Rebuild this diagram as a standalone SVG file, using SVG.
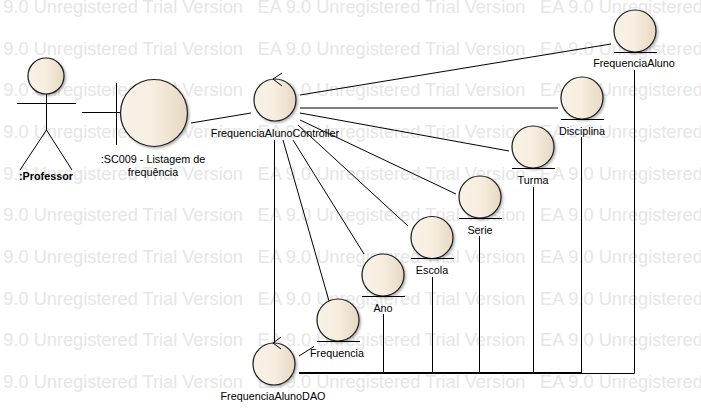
<svg xmlns="http://www.w3.org/2000/svg" xmlns:xlink="http://www.w3.org/1999/xlink" width="701" height="413" viewBox="0 0 701 413">
<style>
text{font-family:"Liberation Sans",Arial,sans-serif}
.wm{font-size:18.2px;fill:#e6e6e6}
.lb{font-size:10.8px;fill:#000;text-anchor:middle}
.ln{stroke:#000;stroke-width:1;fill:none}
.c{fill:url(#g);stroke:#1a1a1a;stroke-width:1.2;filter:url(#s)}
</style>
<defs>
<linearGradient id="g"><stop offset="0" stop-color="#f8f1e6"/><stop offset=".5" stop-color="#f7eee0"/><stop offset="1" stop-color="#e6d7c2"/></linearGradient>
<filter id="s" x="-20%" y="-20%" width="140%" height="140%"><feDropShadow dx="1.5" dy="1.5" stdDeviation="1" flood-color="#000" flood-opacity=".3"/></filter>
<g id="w"><text class="wm" x="-25" y="13">EA 9.0 Unregistered Trial Version</text><text class="wm" x="257.500" y="13">EA 9.0 Unregistered Trial Version</text><text class="wm" x="540" y="13">EA 9.0 Unregistered Trial Version</text></g>
</defs>
<rect width="701" height="413" fill="#fff"/>
<g id="watermark">
<use xlink:href="#w" y="0"/><use xlink:href="#w" y="41.6"/><use xlink:href="#w" y="83.3"/><use xlink:href="#w" y="125"/><use xlink:href="#w" y="166.6"/><use xlink:href="#w" y="208.3"/><use xlink:href="#w" y="250"/><use xlink:href="#w" y="291.6"/><use xlink:href="#w" y="333.3"/><use xlink:href="#w" y="375"/>
</g>
<g id="connectors" class="ln">
<path d="M191 123L251 113"/>
<path d="M300 95L611 44"/>
<path d="M300 108H558"/>
<path d="M300 113L509 151"/>
<path d="M300 120L456 194"/>
<path d="M298 125L408 226"/>
<path d="M293 140L364 254"/>
<path d="M283 140L329 301"/>
<path d="M274.5 140V343"/>
<path d="M299 356L314 346.5"/>
<path d="M299 373H582" stroke-width="2"/>
<path d="M582 373.500H634.500V70"/>
<path d="M383.500 314V373M432.500 277V373M479.500 236V373M533.500 187V373M581.500 137V373"/>
</g>
<g id="professor"><circle class="c" cx="46" cy="76" r="18"/><path class="ln" d="M46.500 94V130M17 103.500H76M20 170L46.500 130L72 170"/><text class="lb" x="46" y="180" font-weight="bold">:Professor</text></g>
<g id="sc009"><circle class="c" cx="154" cy="113" r="33.5"/><path class="ln" d="M116.500 83V145M82 112.500H120"/><text class="lb" x="153" y="163">:SC009 - Listagem de</text><text class="lb" x="153" y="176">frequência</text></g>
<g id="controller"><circle class="c" cx="275" cy="100" r="21"/><path class="ln" d="M282 73L273 79L282 86"/><text class="lb" x="275" y="137">FrequenciaAlunoController</text></g>
<g id="frequenciaAluno"><circle class="c" cx="635" cy="31" r="21"/><path class="ln" d="M614 52.500H657"/><text class="lb" x="634" y="67">FrequenciaAluno</text></g>
<g id="disciplina"><circle class="c" cx="582" cy="98" r="21"/><path class="ln" d="M561 119.500H604"/><text class="lb" x="582" y="135">Disciplina</text></g>
<g id="turma"><circle class="c" cx="533" cy="147" r="21"/><path class="ln" d="M512 168.500H555"/><text class="lb" x="533" y="184">Turma</text></g>
<g id="serie"><circle class="c" cx="480" cy="197" r="21"/><path class="ln" d="M459 218.500H502"/><text class="lb" x="480" y="234">Serie</text></g>
<g id="escola"><circle class="c" cx="432" cy="237.500" r="21"/><path class="ln" d="M411 258.500H454"/><text class="lb" x="432" y="274">Escola</text></g>
<g id="ano"><circle class="c" cx="383" cy="275" r="21"/><path class="ln" d="M362 296.500H405"/><text class="lb" x="383" y="312">Ano</text></g>
<g id="frequencia"><circle class="c" cx="338" cy="320" r="21"/><path class="ln" d="M317 341.500H360"/><text class="lb" x="337" y="357">Frequencia</text></g>
<g id="dao"><circle class="c" cx="274" cy="364" r="21"/><path class="ln" d="M281 337L273 343L281 349"/><text class="lb" x="273" y="400">FrequenciaAlunoDAO</text></g>
</svg>
